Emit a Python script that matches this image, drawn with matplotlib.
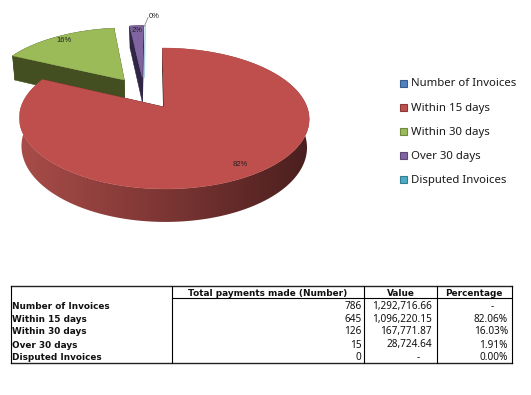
import numpy as np
import matplotlib
matplotlib.use('Agg')
import matplotlib.pyplot as plt
from matplotlib.colors import LinearSegmentedColormap
from matplotlib.patches import Polygon, Rectangle

categories = ['Number of Invoices', 'Within 15 days', 'Within 30 days', 'Over 30 days', 'Disputed Invoices']
payments = [786, 645, 126, 15, 0]
amounts = [1292716.66, 1096220.15, 167771.87, 28724.64, None]
percentages = [None, 82.06, 16.03, 1.91, 0.00]
pie_shares = [0, 82.06, 16.03, 1.91, 0.00]
table_header = ['Total payments made (Number)', 'Value', 'Percentage']

top_colors = ['#4F81BD', '#BE4F4C', '#9BBB59', '#8064A2', '#4BACC6']
wall_colors = ['#2A4564', '#4A1F1E', '#434F20', '#2F2545', '#4BACC6']
edge_colors = ['#385D8A', '#8C3836', '#71893F', '#5C4776', '#357D91']
label_xy = [None, (240, 165), (64, 41), (137, 30), (154, 17)]

# pie projection, pixels
X0, Y0 = 164, 107
R_X, R_Y = 143, 68.6
PERSP = 0.163
DEPTH = 27.6
SHRINK = 0.985
SHEAR = 1.5
EXPLODE = 0.254
BACK_SHIFT = -0.008


def project(u, v, low=False):
    u = np.asarray(u, dtype=float)
    v = np.asarray(v, dtype=float)
    s = 1 / (1 + PERSP * v)
    x = X0 + R_X * u * s - SHEAR * v
    y = Y0 - R_Y * v * s
    if low:
        x = X0 + (x - X0) * SHRINK
        y = y + DEPTH * s
    return x, y


fig = plt.figure(figsize=(5.31, 3.95), dpi=100)
ax = fig.add_axes([0, 0, 1, 1])

# slice angles, clockwise from 12 o'clock
fracs = np.array(pie_shares, dtype=float) / sum(pie_shares)
ends = np.cumsum(fracs) * 2 * np.pi
starts = ends - fracs * 2 * np.pi
mids = (starts + ends) / 2
red_off = EXPLODE * np.array([np.sin(mids[1]), np.cos(mids[1])])
side_cmap = LinearSegmentedColormap.from_list('side', ['#A84C49', '#7C3634', '#4A1F1E'])


def draw_slice(i):
    ox = EXPLODE * np.sin(mids[i]) - red_off[0]
    oy = EXPLODE * np.cos(mids[i]) - red_off[1]
    if i != 1:
        ox += BACK_SHIFT
    th = np.linspace(starts[i], ends[i], 240)
    u = np.concatenate([[ox], ox + np.sin(th)])
    v = np.concatenate([[oy], oy + np.cos(th)])
    tx, ty = project(u, v)
    bx, by = project(u, v, low=True)
    if fracs[i] == 0:
        ax.plot([tx[0], tx[-1]], [ty[0], ty[-1]], color='#A9CFE0', lw=1)
        return
    # flat walls along the two cut edges
    for a, b in [(0, 1), (0, -1)]:
        quad = [(tx[a], ty[a]), (tx[b], ty[b]), (bx[b], by[b]), (bx[a], by[a])]
        ax.add_patch(Polygon(quad, fc=wall_colors[i], ec=wall_colors[i], lw=0.4))
    # outer rim
    rim = np.vstack([np.column_stack([tx[1:], ty[1:]]), np.column_stack([bx[1:], by[1:]])[::-1]])
    if i == 1:
        patch = Polygon(rim, fc='none', ec='none')
        ax.add_patch(patch)
        grad = ax.imshow(np.linspace(0, 1, 290).reshape(1, -1), cmap=side_cmap, aspect='auto',
                         extent=(20, 310, 240, 40), interpolation='bilinear')
        grad.set_clip_path(patch)
    else:
        ax.add_patch(Polygon(rim, fc=wall_colors[i], ec=wall_colors[i], lw=0.4))
    ax.add_patch(Polygon(np.column_stack([tx, ty]), fc=top_colors[i], ec=top_colors[i], lw=0.3))


for i in [2, 3, 4, 1]:
    draw_slice(i)

ax.set_xlim(0, 531)
ax.set_ylim(395, 0)
ax.axis('off')

for i in range(1, 5):
    ax.text(label_xy[i][0], label_xy[i][1], f'{pie_shares[i]:.0f}%', fontsize=5.5, color='#222222',
            ha='center', va='center', family='Liberation Sans')
ax.plot([144.5, 148], [26, 17.5], color='#888888', lw=0.6)

# legend
legend_y = [83, 107, 131, 155, 179]
for name, yy, c, e in zip(categories, legend_y, top_colors, edge_colors):
    ax.add_patch(Rectangle((399.5, yy - 3.5), 7, 7, fc=c, ec=e, lw=0.8))
    ax.text(411, yy + 3.5, name, fontsize=8.2, color='#1A1A1A', va='baseline', family='Noto Sans')

# table
col_x = [11, 172, 364, 437, 511.5]
TOP, HEAD, BOTTOM = 286, 298, 363
row_y = [309, 321.7, 334, 347.5, 360]
ax.plot([col_x[0], col_x[-1]], [TOP, TOP], color='#222222', lw=1)
ax.plot([col_x[0], col_x[-1]], [BOTTOM, BOTTOM], color='#222222', lw=1)
ax.plot([col_x[1], col_x[-1]], [HEAD, HEAD], color='black', lw=0.8)
for xx in col_x:
    ax.plot([xx, xx], [TOP, BOTTOM], color='black', lw=0.8)

TXT = dict(fontsize=7.2, color='#111111', va='baseline', family='Noto Sans')
BOLD = dict(fontsize=6.4, color='#111111', va='baseline', family='DejaVu Sans', fontweight='bold')
for j, h in enumerate(table_header):
    ax.text((col_x[j + 1] + col_x[j + 2]) / 2, 296, h, ha='center', **BOLD)

for k in range(len(categories)):
    ax.text(12.5, row_y[k], categories[k], ha='left', **BOLD)
    ax.text(361.7, row_y[k], str(payments[k]), ha='right', **TXT)
    if amounts[k] is None:
        ax.text(418, row_y[k], '-', ha='center', **TXT)
    else:
        ax.text(432, row_y[k], f'{amounts[k]:,.2f}', ha='right', **TXT)
    if percentages[k] is None:
        ax.text(492, row_y[k], '-', ha='center', **TXT)
    else:
        ax.text(508, row_y[k], f'{percentages[k]:.2f}%', ha='right', **TXT)

fig.savefig('out.png', dpi=100)
